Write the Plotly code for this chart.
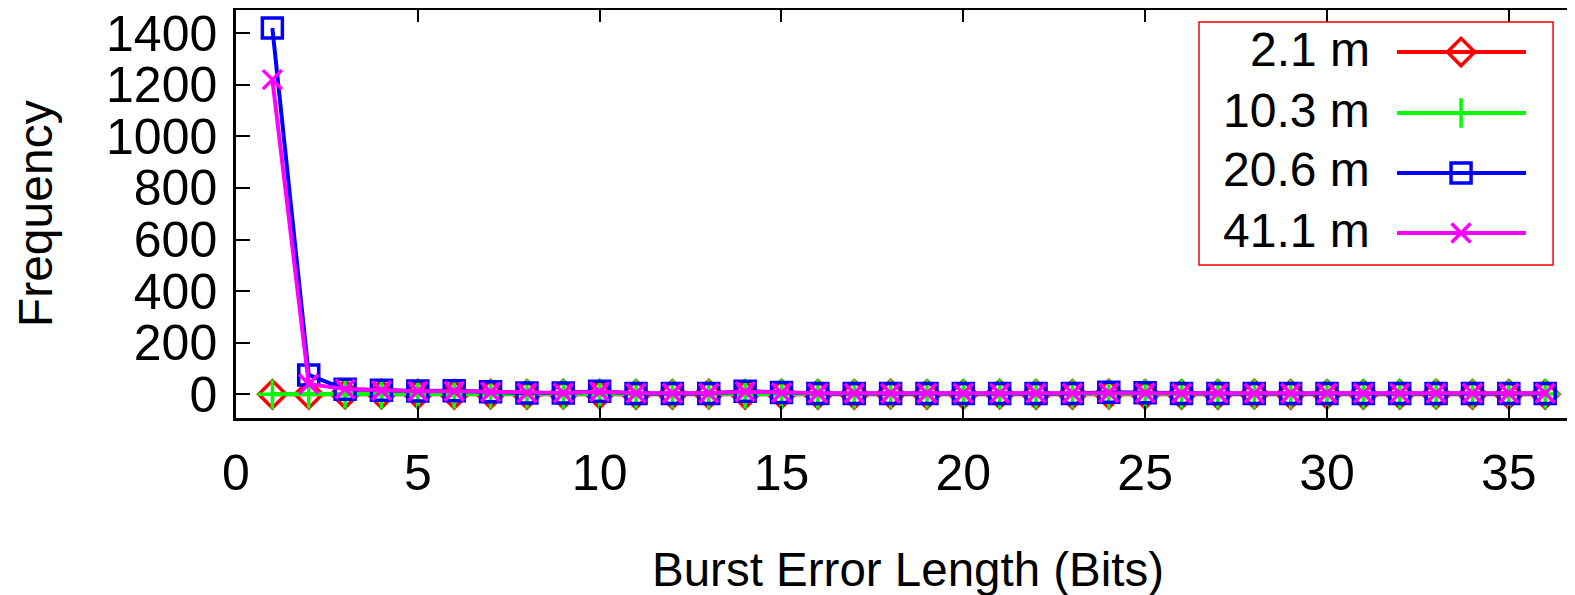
import plotly.graph_objects as go

# ---- data ----
burst_len = list(range(1, 37))
series_names = ["2.1 m", "10.3 m", "20.6 m", "41.1 m"]
freq_2_1 = [0, 0, 1, 1, 1, 0, 1, 0, 1, 1, 0, 0, 1, 0, 1, 0, 0, 1,
            0, 0, 1, 0, 0, 1, 0, 0, 0, 1, 0, 0, 0, 0, 1, 0, 0, 0]
freq_10_3 = [0, 1, 2, 2, 1, 1, 1, 1, 1, 2, 1, 1, 1, 2, 1, 1, 1, 1,
             1, 1, 1, 1, 1, 1, 1, 1, 1, 1, 1, 1, 1, 1, 1, 1, 1, 1]
freq_20_6 = [1420, 75, 19, 16, 13, 14, 10, 5, 5, 12, 3, 3, 3, 12, 7, 3, 3, 3,
             3, 3, 3, 3, 3, 8, 6, 3, 3, 3, 3, 3, 3, 3, 3, 3, 3, 3]
freq_41_1 = [1220, 40, 20, 15, 12, 12, 9, 5, 5, 10, 4, 4, 4, 10, 6, 4, 4, 4,
             4, 4, 4, 4, 4, 6, 5, 4, 4, 4, 4, 4, 4, 4, 4, 4, 4, 4]
x_ticks = [0, 5, 10, 15, 20, 25, 30, 35]
y_ticks = [0, 200, 400, 600, 800, 1000, 1200, 1400]
x_title = "Burst Error Length (Bits)"
y_title = "Frequency"

# ---- styles ----
colors = ["#ff0000", "#00ff00", "#0000ff", "#ff00ff"]
symbols = ["diamond-open", "cross-thin-open", "square-open", "x-thin-open"]
sizes = [21, 21, 20, 19]
all_series = [freq_2_1, freq_10_3, freq_20_6, freq_41_1]
FONT = "Liberation Sans, Arial, sans-serif"
FS = 48
FS_TICK = 50
LW = 4

fig = go.Figure()
for name, vals, c, s, sz in zip(series_names, all_series, colors, symbols, sizes):
    fig.add_trace(go.Scatter(
        x=burst_len, y=vals, name=name, mode="lines+markers",
        line=dict(color=c, width=LW),
        marker=dict(symbol=s, size=sz, color=c, line=dict(color=c, width=3.5)),
        showlegend=False, cliponaxis=False,
    ))

# ---- custom gnuplot-style legend (text right-aligned, sample on the right) ----
leg_rows_y = [0.897, 0.7475, 0.6005, 0.4534]
leg_text_x = 0.8484
leg_line_x = [0.8671, 0.9634]
leg_mark_x = 0.9149
for name, c, s, sz, yy in zip(series_names, colors, symbols, sizes, leg_rows_y):
    fig.add_trace(go.Scatter(x=leg_line_x, y=[yy, yy], xaxis="x2", yaxis="y2",
                             mode="lines", line=dict(color=c, width=LW),
                             showlegend=False, hoverinfo="skip"))
    fig.add_trace(go.Scatter(x=[leg_mark_x], y=[yy], xaxis="x2", yaxis="y2",
                             mode="markers",
                             marker=dict(symbol=s, size=sz, color=c,
                                         line=dict(color=c, width=3.5)),
                             showlegend=False, hoverinfo="skip"))
    fig.add_annotation(x=leg_text_x, y=yy, xref="paper", yref="paper", text=name,
                       showarrow=False, xanchor="right", yanchor="middle",
                       yshift=3,
                       font=dict(family=FONT, size=FS, color="black"))
fig.add_shape(type="rect", xref="paper", yref="paper",
              x0=0.7192, x1=0.9836, y0=0.375, y1=0.9706,
              line=dict(color="#ff0000", width=1.5), fillcolor="rgba(0,0,0,0)")

# ---- axis titles ----
fig.add_annotation(x=0.502, y=-0.3725, xref="paper", yref="paper", text=x_title,
                   showarrow=False, xanchor="center", yanchor="middle",
                   font=dict(family=FONT, size=47.5, color="black"))
fig.add_annotation(x=-0.150, y=0.5, xref="paper", yref="paper", text=y_title,
                   textangle=-90, showarrow=False, xanchor="center",
                   yanchor="middle", font=dict(family=FONT, size=FS, color="black"))

# page body has an 8px margin, so the figure is sized to the visible area
fig.update_layout(
    width=1567, height=587,
    margin=dict(l=228, r=0, t=2, b=177, autoexpand=False),
    paper_bgcolor="white", plot_bgcolor="white",
    font=dict(family=FONT, size=FS, color="black"),
    xaxis=dict(
        range=[0, 36.82], tickvals=x_ticks, ticks="inside", ticklen=12,
        tickwidth=1.5, tickcolor="black", showline=True, linecolor="black",
        linewidth=2.5, mirror="ticks", showgrid=False, zeroline=False,
        ticklabelstandoff=9, automargin=False, ticklabeloverflow="allow",
        tickfont=dict(family=FONT, size=FS_TICK),
    ),
    yaxis=dict(
        range=[-92, 1490], tickvals=y_ticks, ticks="inside", ticklen=14,
        tickwidth=1.5, tickcolor="black", showline=True, linecolor="black",
        linewidth=2.5, showgrid=False, zeroline=False,
        ticklabelstandoff=6, automargin=False, ticklabeloverflow="allow",
        tickfont=dict(family=FONT, size=FS_TICK),
    ),
    yaxis3=dict(
        overlaying="y", matches="y", side="right", anchor="x",
        ticks="inside", ticklen=14, tickwidth=1.5, tickcolor="black",
        tickvals=y_ticks, showticklabels=False, showline=False,
        showgrid=False, zeroline=False, automargin=False,
    ),
    xaxis2=dict(overlaying="x", range=[0, 1], visible=False, anchor="y2"),
    yaxis2=dict(overlaying="y", range=[0, 1], visible=False, anchor="x2"),
)

fig.write_html("out.html")
